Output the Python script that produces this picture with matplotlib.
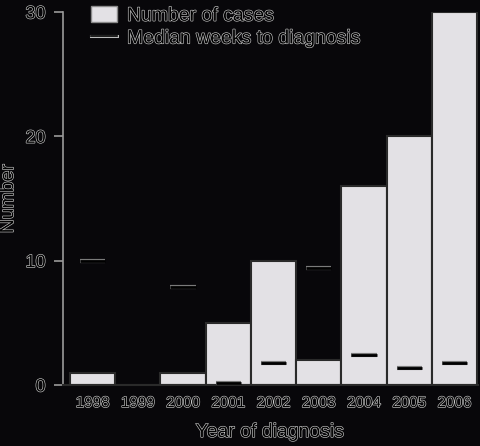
import matplotlib
matplotlib.use("Agg")
import matplotlib.pyplot as plt
import matplotlib.patheffects as pe
from matplotlib.patches import Patch
from matplotlib.lines import Line2D
import numpy as np

years = ["1998", "1999", "2000", "2001", "2002", "2003", "2004", "2005", "2006"]
cases = [1, 0, 1, 5, 10, 2, 16, 20, 30]
median_weeks = [10, None, 7.9, 0.15, 1.8, 9.4, 2.4, 1.4, 1.8]

plt.rcParams['font.family'] = ['Liberation Sans', 'DejaVu Sans']

BG = '#08070a'
BAR = '#e3e1e5'
HALO = '#c8c8c8'
fx = [pe.withStroke(linewidth=0.9, foreground=HALO)]

fig = plt.figure(figsize=(4.8, 4.46), dpi=100, facecolor=BG)
ax = fig.add_axes([63/480, 61/446, 415/480, 373/446])
ax.set_facecolor(BG)

x = np.arange(len(years))
ax.bar(x, cases, width=1.0, color=BAR, edgecolor='#2a2a2a', linewidth=1.5, zorder=2)

for xi, m in zip(x, median_weeks):
    if m is None:
        continue
    ax.plot([xi - 0.28, xi + 0.28], [m, m], color='black', linewidth=2.0,
            solid_capstyle='butt', zorder=3,
            path_effects=[pe.withStroke(linewidth=3.0, foreground='#7a7a7a')])

ax.set_xlim(-0.655, 8.52)
ax.set_ylim(0, 30)
ax.set_xticks(x)
ax.set_xticklabels(years)
ax.set_yticks([0, 10, 20, 30])

for s in ['top', 'right']:
    ax.spines[s].set_visible(False)
ax.spines['left'].set_color('#9a9a9a')
ax.spines['left'].set_linewidth(1.2)
ax.spines['bottom'].set_color('#2a2a2a')
ax.spines['bottom'].set_linewidth(1.5)

ax.tick_params(axis='y', length=6.5, width=1.2, color='#9a9a9a', pad=6, labelsize=13)
ax.tick_params(axis='x', length=0, pad=8, labelsize=11)

for lab in ax.get_xticklabels() + ax.get_yticklabels():
    lab.set_color('black')
    lab.set_path_effects(fx)

ax.set_xlabel("Year of diagnosis", fontsize=14, color='black', labelpad=10, path_effects=fx)
ax.set_ylabel("Number", fontsize=14, color='black', labelpad=6, path_effects=fx)

handles = [Patch(facecolor=BAR, edgecolor='#8a8a8a', linewidth=1.0),
           Line2D([0], [0], color='black', linewidth=1.2,
                  path_effects=[pe.withStroke(linewidth=2.2, foreground='#bbbbbb')])]
leg = ax.legend(handles, ["Number of cases", "Median weeks to diagnosis"],
                loc='upper left', bbox_to_anchor=(91/480, 1 - 6/446),
                bbox_transform=fig.transFigure, frameon=False, fontsize=14,
                handlelength=1.35, handleheight=0.9, handletextpad=0.5,
                labelspacing=0.2, borderaxespad=0, borderpad=0)
for t in leg.get_texts():
    t.set_color('black')
    t.set_path_effects(fx)

fig.savefig("out.png", dpi=100, facecolor=BG)
